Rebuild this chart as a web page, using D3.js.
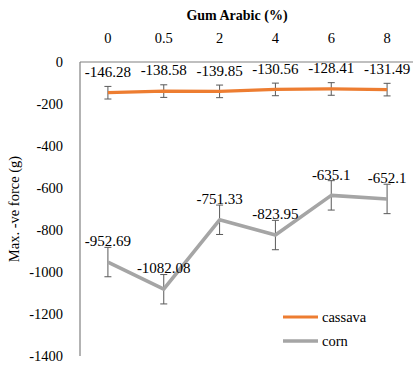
<!DOCTYPE html>
<html lang="en">
<head>
<meta charset="utf-8">
<title>Gum Arabic</title>
<script src="https://cdn.jsdelivr.net/npm/d3@7"></script>
<style>
  html, body { margin: 0; padding: 0; background: #fff; }
</style>
</head>
<body>
<script>
// chart data
const categories = ["0", "0.5", "2", "4", "6", "8"];
const cassava = [-146.28, -138.58, -139.85, -130.56, -128.41, -131.49];
const corn = [-952.69, -1082.08, -751.33, -823.95, -635.1, -652.1];
const cassavaErr = [30, 30, 30, 30, 30, 30];
const cornErr = [70, 70, 70, 70, 70, 70];
const yTicks = [0, -200, -400, -600, -800, -1000, -1200, -1400];

const w = 413, h = 369;
const padLeft = 80, padRight = 415, padTop = 62, padBottom = 356;

const svg = d3.select("body").append("svg")
  .attr("width", w).attr("height", h)
  .attr("font-family", "'Liberation Serif', 'DejaVu Serif', serif");

const x = d3.scalePoint().domain(categories).range([padLeft, padRight]).padding(0.5);
const y = d3.scaleLinear().domain([0, -1400]).range([padTop, padBottom]);

// axes
svg.append("line").attr("x1", padLeft).attr("x2", w).attr("y1", y(0)).attr("y2", y(0))
  .attr("stroke", "#808080").attr("stroke-width", 1.2);
svg.append("line").attr("x1", padLeft).attr("x2", padLeft).attr("y1", y(0)).attr("y2", y(-1400))
  .attr("stroke", "#808080").attr("stroke-width", 1.2);

svg.selectAll(".ytick").data(yTicks).enter().append("text")
  .attr("x", 63).attr("y", d => y(d)).attr("dy", "0.35em")
  .attr("text-anchor", "end").attr("font-size", "14.5px")
  .text(d => d);

svg.selectAll(".xtick").data(categories).enter().append("text")
  .attr("x", d => x(d)).attr("y", 38).attr("dy", "0.35em")
  .attr("text-anchor", "middle").attr("font-size", "14.5px")
  .text(d => d);

svg.append("text").attr("x", 237).attr("y", 15).attr("dy", "0.35em")
  .attr("text-anchor", "middle").attr("font-size", "14px").attr("font-weight", "bold")
  .text("Gum Arabic (%)");

svg.append("text").attr("transform", "translate(14," + ((padTop + padBottom) / 2) + ") rotate(-90)")
  .attr("dy", "0.35em").attr("text-anchor", "middle").attr("font-size", "14.5px")
  .text("Max. -ve force (g)");

const series = [
  { name: "cassava", vals: cassava, err: cassavaErr, color: "#ED7D31", width: 3.2 },
  { name: "corn", vals: corn, err: cornErr, color: "#A5A5A5", width: 3.6 }
];

const line = d3.line().x(d => x(d.c)).y(d => y(d.v));

series.forEach(s => {
  const pts = s.vals.map((v, i) => ({ c: categories[i], v: v, e: s.err[i] }));
  const g = svg.append("g");
  // error bars
  const eb = g.selectAll(".eb").data(pts).enter().append("g");
  eb.append("line").attr("x1", d => x(d.c)).attr("x2", d => x(d.c))
    .attr("y1", d => y(d.v + d.e)).attr("y2", d => y(d.v - d.e))
    .attr("stroke", "#595959").attr("stroke-width", 1);
  [1, -1].forEach(k => {
    eb.append("line").attr("x1", d => x(d.c) - 3.5).attr("x2", d => x(d.c) + 3.5)
      .attr("y1", d => y(d.v + k * d.e)).attr("y2", d => y(d.v + k * d.e))
      .attr("stroke", "#595959").attr("stroke-width", 1);
  });
  g.append("path").datum(pts).attr("d", line)
    .attr("fill", "none").attr("stroke", s.color).attr("stroke-width", s.width)
    .attr("stroke-linejoin", "round");
  g.selectAll(".lbl").data(pts).enter().append("text")
    .attr("x", d => x(d.c)).attr("y", d => y(d.v) - 21).attr("dy", "0.35em")
    .attr("text-anchor", "middle").attr("font-size", "15px")
    .text(d => d.v);
});

// legend
series.forEach((s, i) => {
  const ly = 317 + i * 24;
  svg.append("line").attr("x1", 283).attr("x2", 318).attr("y1", ly).attr("y2", ly)
    .attr("stroke", s.color).attr("stroke-width", s.width);
  svg.append("text").attr("x", 322).attr("y", ly).attr("dy", "0.35em")
    .attr("font-size", "14.5px").text(s.name);
});
</script>
</body>
</html>
